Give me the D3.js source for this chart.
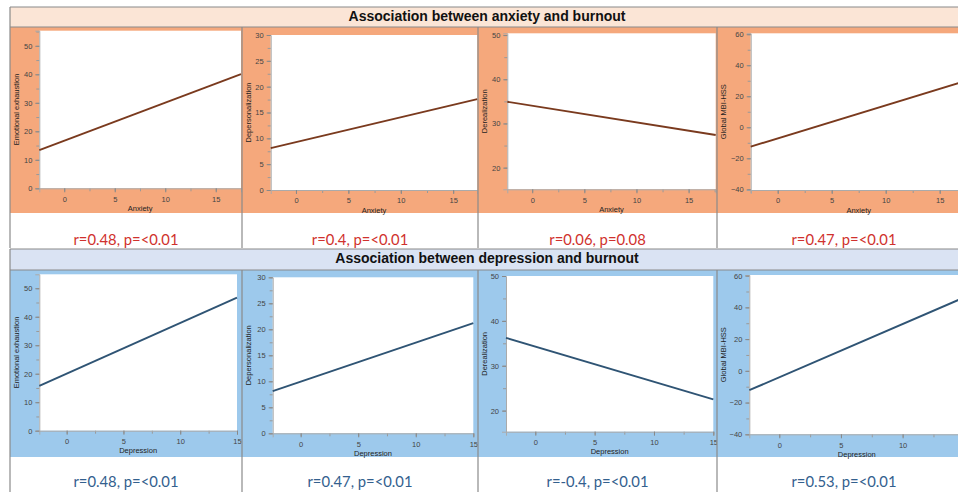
<!DOCTYPE html>
<html>
<head>
<meta charset="utf-8">
<script src="https://cdn.jsdelivr.net/npm/d3@7"></script>
<style>
  body { margin: 0; background: #fff; }
  svg { display: block; }
</style>
</head>
<body>
<script>
// data
const outcomes = ["Emotional exhaustion", "Depersonalization", "Derealization", "Global MBI-HSS"]
const sectionTitles = ["Association between anxiety and burnout", "Association between depression and burnout"]
const predictors = ["Anxiety", "Depression"]

// fitted line ends (y at left edge, y at right edge of the x domain)
const anxietyStart = [13.4, 8.1, 34.9, -12.5]
const anxietyEnd = [40.1, 17.6, 27.4, 30.1]
const depressionStart = [15.7, 8.1, 36.2, -12.2]
const depressionEnd = [46.7, 21.2, 22.5, 46.3]

const anxietyStats = ["r=0.48, p=<0.01", "r=0.4, p=<0.01", "r=0.06, p=0.08", "r=0.47, p=<0.01"]
const depressionStats = ["r=0.48, p=<0.01", "r=0.47, p=<0.01", "r=-0.4, p=<0.01", "r=0.53, p=<0.01"]

const anxietyXDomains = [[-2.47, 17.5], [-2.41, 17.3], [-2.39, 17.6], [-2.5, 17.5]]
const depressionXDomains = [[-2.41, 15], [-2.43, 15], [-2.47, 15], [-2.43, 15]]
const anxietyYDomains = [[0, 55.3], [0, 30], [15.1, 50.4], [-40.45, 60.6]]
const depressionYDomains = [[0, 54.9], [0, 30], [15.3, 50], [-40, 60.4]]

const xTickValues = [0, 5, 10, 15]
const yTickValues = [[0, 10, 20, 30, 40, 50], [0, 5, 10, 15, 20, 25, 30], [20, 30, 40, 50], [-40, -20, 0, 20, 40, 60]]
const yMinorStep = [5, 2.5, 5, 10]

const width = 958, height = 492

// layout of the two sections
const sections = [
  {
    title: sectionTitles[0], predictor: predictors[0],
    titleY: [7, 27], bandY: [27, 213], capY: [213, 248], capBase: 245,
    bandColor: "#f5a87c", titleColor: "#fbe5d6", lineColor: "#7a3a1e", capColor: "#d0312d",
    start: anxietyStart, end: anxietyEnd, stats: anxietyStats,
    xd: anxietyXDomains, yd: anxietyYDomains,
    plots: [[39.3, 241, 30.7, 188.3], [270.7, 477.3, 35, 190], [507.3, 715.7, 33.3, 189.3], [750.7, 966.7, 33.3, 190]]
  },
  {
    title: sectionTitles[1], predictor: predictors[1],
    titleY: [249, 270], bandY: [270, 457], capY: [457, 492], capBase: 487,
    bandColor: "#9dc9ec", titleColor: "#dae3f3", lineColor: "#2f5474", capColor: "#33608e",
    start: depressionStart, end: depressionEnd, stats: depressionStats,
    xd: depressionXDomains, yd: depressionYDomains,
    plots: [[39.3, 237, 274.3, 430.7], [272.7, 473.3, 277.3, 433.3], [506, 713.3, 276, 431.7], [749.3, 964.3, 275, 434.3]]
  }
]
const cellX = [10, 242, 478, 717, 971]

const svg = d3.select("body")
  .append("svg")
  .attr("width", width)
  .attr("height", height)

const font = "Liberation Sans, Arial, sans-serif"

sections.forEach(sec => {
  const g = svg.append("g")

  // title band
  g.append("rect")
    .attr("x", cellX[0]).attr("y", sec.titleY[0])
    .attr("width", width).attr("height", sec.titleY[1] - sec.titleY[0])
    .attr("fill", sec.titleColor)
  g.append("text")
    .attr("x", 487).attr("y", (sec.titleY[0] + sec.titleY[1]) / 2 + 3.8)
    .attr("text-anchor", "middle")
    .attr("font-family", font)
    .attr("font-weight", "bold")
    .attr("font-size", 14)
    .attr("fill", "#111")
    .text(sec.title)

  outcomes.forEach((name, i) => {
    const cx0 = cellX[i], cx1 = cellX[i + 1]
    const [px0, px1, py0, py1] = sec.plots[i]

    // coloured band
    g.append("rect")
      .attr("x", cx0).attr("y", sec.bandY[0])
      .attr("width", cx1 - cx0).attr("height", sec.bandY[1] - sec.bandY[0])
      .attr("fill", sec.bandColor)

    // white plot area
    g.append("rect")
      .attr("x", px0).attr("y", py0)
      .attr("width", px1 - px0).attr("height", py1 - py0)
      .attr("fill", "#fff")

    const x = d3.scaleLinear().domain(sec.xd[i]).range([px0, px1])
    const y = d3.scaleLinear().domain(sec.yd[i]).range([py1, py0])

    // x axis
    const minorX = d3.range(Math.ceil(sec.xd[i][0] / 2.5) * 2.5, sec.xd[i][1] + 0.01, 2.5)
    g.append("g")
      .attr("transform", `translate(0,${py1})`)
      .call(d3.axisBottom(x).tickValues(minorX).tickSize(3).tickFormat(""))
      .call(a => a.select(".domain").remove())
      .call(a => a.selectAll("line").attr("stroke", "#999"))
    g.append("g")
      .attr("transform", `translate(0,${py1})`)
      .call(d3.axisBottom(x).tickValues(xTickValues.filter(v => v <= sec.xd[i][1] && x(v) < width - 6)).tickSize(4).tickPadding(4))
      .call(a => a.select(".domain").attr("stroke", "#aaa"))
      .call(a => a.selectAll("line").attr("stroke", "#888"))
      .call(a => a.selectAll("text")
        .attr("font-family", font)
        .attr("font-size", 7.5)
        .attr("fill", "#444"))

    // y axis
    const step = yMinorStep[i]
    const minorY = d3.range(Math.ceil(sec.yd[i][0] / step) * step, sec.yd[i][1] + 0.01, step)
    g.append("g")
      .attr("transform", `translate(${px0},0)`)
      .call(d3.axisLeft(y).tickValues(minorY).tickSize(3).tickFormat(""))
      .call(a => a.select(".domain").remove())
      .call(a => a.selectAll("line").attr("stroke", "#999"))
    g.append("g")
      .attr("transform", `translate(${px0},0)`)
      .call(d3.axisLeft(y).tickValues(yTickValues[i]).tickSize(4).tickPadding(3))
      .call(a => a.select(".domain").attr("stroke", "#aaa"))
      .call(a => a.selectAll("line").attr("stroke", "#888"))
      .call(a => a.selectAll("text")
        .attr("font-family", font)
        .attr("font-size", 7.5)
        .attr("fill", "#444"))

    // axis titles
    g.append("text")
      .attr("x", (px0 + Math.min(px1, cx1)) / 2).attr("y", py1 + 22.5)
      .attr("text-anchor", "middle")
      .attr("font-family", font)
      .attr("font-size", 7.5)
      .attr("fill", "#222")
      .text(sec.predictor)
    g.append("text")
      .attr("transform", `translate(${cx0 + 8.5},${(py0 + py1) / 2}) rotate(-90)`)
      .attr("text-anchor", "middle")
      .attr("font-family", font)
      .attr("font-size", 7.5)
      .attr("fill", "#222")
      .text(name)

    // regression line
    const pts = [[sec.xd[i][0], sec.start[i]], [sec.xd[i][1], sec.end[i]]]
    g.append("path")
      .datum(pts)
      .attr("d", d3.line().x(d => x(d[0])).y(d => y(d[1])))
      .attr("stroke", sec.lineColor)
      .attr("stroke-width", 1.9)
      .attr("fill", "none")

    // caption
    g.append("text")
      .attr("x", (cx0 + cx1) / 2)
      .attr("y", sec.capBase)
      .attr("text-anchor", "middle")
      .attr("font-family", "Lato, Open Sans, sans-serif")
      .attr("font-size", 14.8)
      .attr("fill", sec.capColor)
      .text(sec.stats[i])
  })

  // grid lines of the table
  const border = "#8a8a8a"
  g.append("line")
    .attr("x1", cellX[0]).attr("x2", width)
    .attr("y1", sec.titleY[0]).attr("y2", sec.titleY[0])
    .attr("stroke", border).attr("stroke-width", 1.2)
  g.append("line")
    .attr("x1", cellX[0]).attr("x2", width)
    .attr("y1", sec.titleY[1]).attr("y2", sec.titleY[1])
    .attr("stroke", border).attr("stroke-width", 1.2)
  g.selectAll(".vline")
    .data(cellX.slice(0, 4))
    .join("line")
    .attr("x1", d => d).attr("x2", d => d)
    .attr("y1", (d, j) => j > 0 ? sec.titleY[1] : sec.titleY[0])
    .attr("y2", sec.capY[1])
    .attr("stroke", border).attr("stroke-width", 1.2)
})
</script>
</body>
</html>
